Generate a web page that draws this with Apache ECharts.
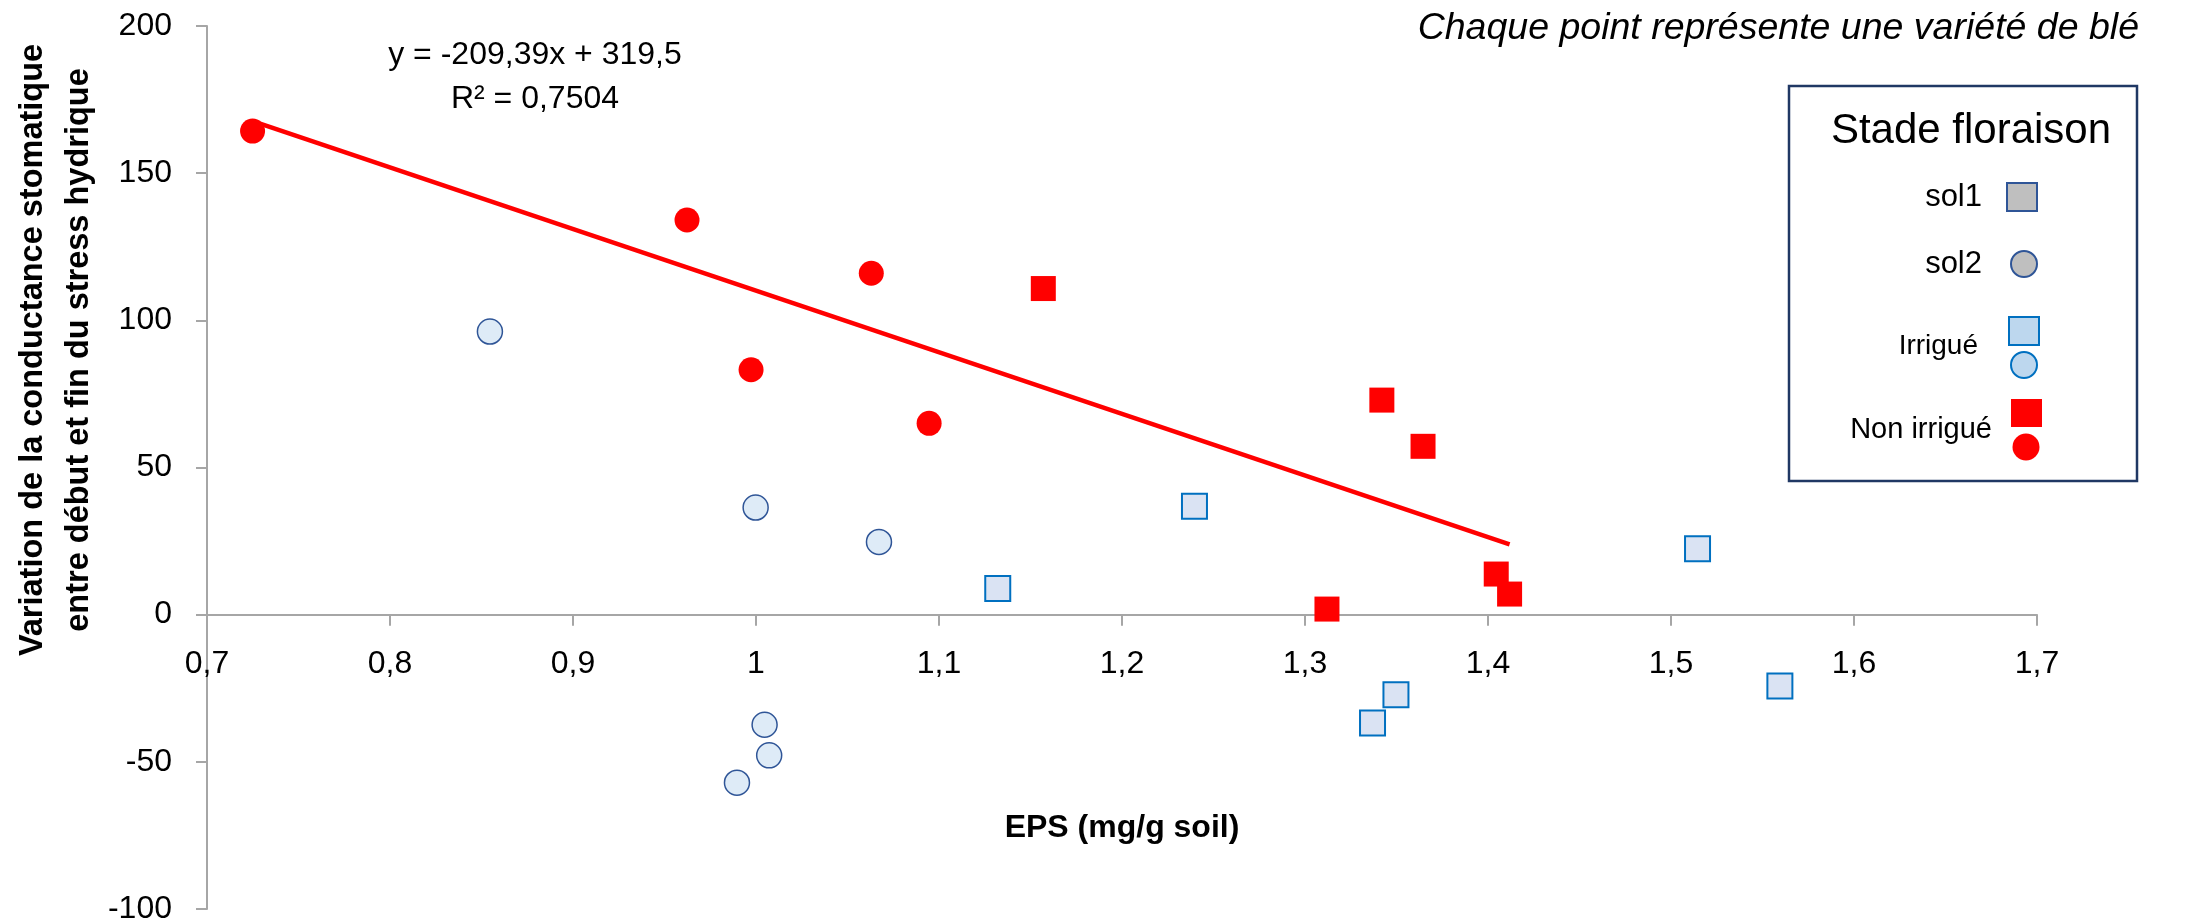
<!DOCTYPE html>
<html>
<head>
<meta charset="utf-8">
<title>Conductance stomatique vs EPS</title>
<script src="https://cdn.jsdelivr.net/npm/echarts@6/dist/echarts.min.js"></script>
<style>
  html, body { margin: 0; padding: 0; background: #fff; }
  #chart { width: 2190px; height: 923px; }
</style>
</head>
<body>
<div id="chart"></div>
<script>
// données : [EPS, variation conductance]
const nonIrrigueSol1 = [[1.157, 110.8], [1.342, 72.9], [1.3645, 57.2], [1.312, 1.9], [1.4045, 13.8], [1.4118, 7.0]]
const nonIrrigueSol2 = [[0.7249, 164.3], [0.9623, 134.1], [1.063, 116.0], [0.9973, 83.2], [1.0946, 65.0]]
const irrigueSol1 = [[1.1321, 8.9], [1.2396, 36.8], [1.5145, 22.4], [1.3497, -27.2], [1.3369, -36.8], [1.5595, -24.2]]
const irrigueSol2 = [[0.8546, 96.2], [0.9998, 36.4], [1.0672, 24.7], [1.0047, -37.4], [1.0072, -47.8], [0.9896, -57.1]]

// courbe de tendance (non irrigué)
const trendSlope = -209.39
const trendIntercept = 319.5
const trendText = ['y = -209,39x + 319,5', 'R² = 0,7504']

const legendItems = ['sol1', 'sol2', 'Irrigué', 'Non irrigué']

const FONT = '"Liberation Sans", Arial, sans-serif'

// bornes des axes
const yMin = -100
const yMax = 200
const gridTop = 26
const gridBottom = 14

// la droite couvre l'étendue en x des points non irrigués
const redX = nonIrrigueSol1.concat(nonIrrigueSol2).map(p => p[0])
const xMin = Math.min(...redX)
const xMax = Math.max(...redX)
const trendData = [xMin, xMax].map(x => [x, trendSlope * x + trendIntercept])

const chart = echarts.init(document.getElementById('chart'))

// l'axe x croise l'axe y en 0 : on le remonte depuis le bas de la grille
const plotHeight = 923 - gridTop - gridBottom
const xAxisOffset = -plotHeight * (0 - yMin) / (yMax - yMin)

const option = {
  animation: false,
  backgroundColor: '#fff',
  grid: {
    left: 207,
    right: 153,
    top: gridTop,
    bottom: gridBottom,
    containLabel: false,
    outerBoundsMode: 'none'
  },
  xAxis: {
    type: 'value',
    min: 0.7,
    max: 1.7,
    interval: 0.1,
    offset: xAxisOffset,
    name: 'EPS (mg/g soil)',
    nameLocation: 'middle',
    nameGap: 198,
    nameTextStyle: { fontFamily: FONT, fontSize: 32, fontWeight: 'bold', color: '#000' },
    axisLine: { onZero: false, lineStyle: { color: '#A6A6A6', width: 2 } },
    axisTick: { show: true, length: 11, lineStyle: { color: '#A6A6A6', width: 2 } },
    axisLabel: {
      margin: 34,
      fontFamily: FONT,
      fontSize: 32,
      color: '#000',
      formatter: v => String(+v.toFixed(1)).replace('.', ',')
    },
    splitLine: { show: false }
  },
  yAxis: {
    type: 'value',
    min: yMin,
    max: yMax,
    interval: 50,
    axisLine: { show: true, onZero: false, lineStyle: { color: '#A6A6A6', width: 2 } },
    axisTick: { show: true, length: 11, lineStyle: { color: '#A6A6A6', width: 2 } },
    axisLabel: { margin: 35, fontFamily: FONT, fontSize: 32, color: '#000' },
    splitLine: { show: false }
  },
  series: [
    {
      name: 'tendance',
      type: 'line',
      data: trendData,
      showSymbol: false,
      lineStyle: { color: '#FF0000', width: 4.5 },
      z: 3
    },
    {
      name: 'Irrigué sol1',
      type: 'scatter',
      symbol: 'rect',
      symbolSize: 25,
      data: irrigueSol1,
      itemStyle: { color: '#DAE3F3', borderColor: '#0070C0', borderWidth: 2, opacity: 1 }
    },
    {
      name: 'Irrigué sol2',
      type: 'scatter',
      symbol: 'circle',
      symbolSize: 25,
      data: irrigueSol2,
      itemStyle: { color: '#DEEBF7', borderColor: '#2F5597', borderWidth: 1.5, opacity: 1 }
    },
    {
      name: 'Non irrigué sol1',
      type: 'scatter',
      symbol: 'rect',
      symbolSize: 25,
      data: nonIrrigueSol1,
      itemStyle: { color: '#FF0000', opacity: 1 }
    },
    {
      name: 'Non irrigué sol2',
      type: 'scatter',
      symbol: 'circle',
      symbolSize: 25,
      data: nonIrrigueSol2,
      itemStyle: { color: '#FF0000', opacity: 1 }
    }
  ],
  graphic: [
    // titre de l'axe y, sur deux lignes
    {
      type: 'text',
      x: 56,
      y: 350,
      rotation: Math.PI / 2,
      style: {
        text: 'Variation de la conductance stomatique\nentre début et fin du stress hydrique',
        font: 'bold 32.5px ' + FONT,
        fill: '#000',
        align: 'center',
        verticalAlign: 'middle',
        lineHeight: 46
      }
    },
    // équation de la droite
    {
      type: 'text',
      x: 535,
      y: 55,
      style: { text: trendText[0], font: '32px ' + FONT, fill: '#000', align: 'center', verticalAlign: 'middle' }
    },
    {
      type: 'text',
      x: 535,
      y: 99,
      style: { text: trendText[1], font: '32px ' + FONT, fill: '#000', align: 'center', verticalAlign: 'middle' }
    },
    {
      type: 'text',
      x: 2139,
      y: 29,
      style: {
        text: 'Chaque point représente une variété de blé',
        font: 'italic 37.5px ' + FONT,
        fill: '#000',
        align: 'right',
        verticalAlign: 'middle'
      }
    },
    // légende dessinée à la main (symboles combinés)
    {
      type: 'group',
      children: [
        {
          type: 'rect',
          shape: { x: 1789, y: 86, width: 348, height: 395 },
          style: { fill: '#fff', stroke: '#203864', lineWidth: 2.5 }
        },
        {
          type: 'text', x: 1971, y: 131,
          style: { text: 'Stade floraison', font: '42px ' + FONT, fill: '#000', align: 'center', verticalAlign: 'middle' }
        },
        {
          type: 'text', x: 1982, y: 197,
          style: { text: legendItems[0], font: '31px ' + FONT, fill: '#000', align: 'right', verticalAlign: 'middle' }
        },
        {
          type: 'rect',
          shape: { x: 2007, y: 183, width: 30, height: 28 },
          style: { fill: '#BFBFBF', stroke: '#2F5597', lineWidth: 2 }
        },
        {
          type: 'text', x: 1982, y: 264,
          style: { text: legendItems[1], font: '31px ' + FONT, fill: '#000', align: 'right', verticalAlign: 'middle' }
        },
        {
          type: 'circle',
          shape: { cx: 2024, cy: 264, r: 13 },
          style: { fill: '#BFBFBF', stroke: '#2F5597', lineWidth: 2 }
        },
        {
          type: 'text', x: 1978, y: 346,
          style: { text: legendItems[2], font: '28px ' + FONT, fill: '#000', align: 'right', verticalAlign: 'middle' }
        },
        {
          type: 'rect',
          shape: { x: 2009, y: 317, width: 30, height: 28 },
          style: { fill: '#BDD7EE', stroke: '#0070C0', lineWidth: 2 }
        },
        {
          type: 'circle',
          shape: { cx: 2024, cy: 365, r: 13 },
          style: { fill: '#BDD7EE', stroke: '#0070C0', lineWidth: 2 }
        },
        {
          type: 'text', x: 1992, y: 430,
          style: { text: legendItems[3], font: '29px ' + FONT, fill: '#000', align: 'right', verticalAlign: 'middle' }
        },
        {
          type: 'rect',
          shape: { x: 2011, y: 399, width: 31, height: 28 },
          style: { fill: '#FF0000' }
        },
        {
          type: 'circle',
          shape: { cx: 2026, cy: 447, r: 13.5 },
          style: { fill: '#FF0000' }
        }
      ]
    }
  ]
}

chart.setOption(option)
</script>
</body>
</html>
